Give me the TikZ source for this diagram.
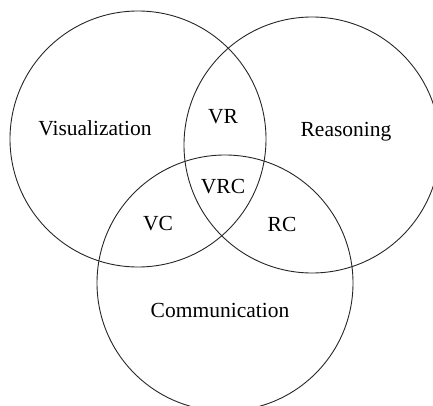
\documentclass[tikz,border=0pt]{standalone}
\usepackage{fontspec}
\setmainfont{Liberation Serif}
\begin{document}
\begin{tikzpicture}[x=1pt,y=-1pt,
  ring/.style={draw=black!85,line width=0.9pt},
  lbl/.style={font=\fontsize{21.5}{26}\selectfont,inner sep=0pt}]
\useasboundingbox (0,0) rectangle (433,406);
\clip (0,0) rectangle (433,406);
\node[ring,circle,minimum size=256pt,inner sep=0pt] (vis) at (138,139) {};
\node[ring,circle,minimum size=256pt,inner sep=0pt] (rea) at (312,145) {};
\node[ring,circle,minimum size=256pt,inner sep=0pt] (com) at (225,283) {};
\node[lbl] (tv) at (95,128) {Visualization};
\node[lbl] (tr) at (346,132) {Reasoning};
\node[lbl] (tc) at (220,310) {Communication};
\node[lbl] (tvr) at (223,117) {VR};
\node[lbl] (tvrc) at (223,187) {VRC};
\node[lbl] (tvc) at (158,224) {VC};
\node[lbl] (trc) at (282,224) {RC};
\end{tikzpicture}
\end{document}
